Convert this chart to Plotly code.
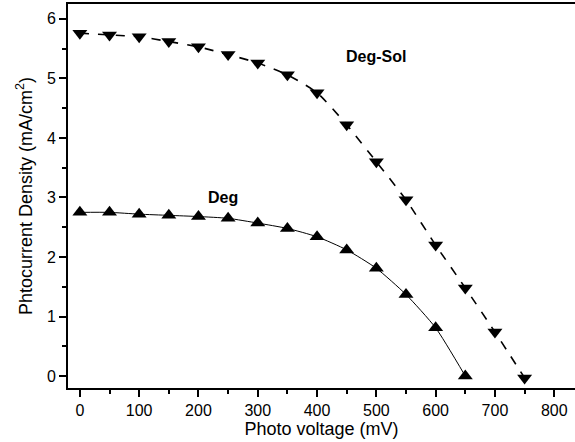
import plotly.graph_objects as go

voltage_sol = [0, 50, 100, 150, 200, 250, 300, 350, 400, 450, 500, 550, 600, 650, 700, 750]
current_sol = [5.76, 5.73, 5.70, 5.62, 5.53, 5.40, 5.26, 5.06, 4.76, 4.22, 3.60, 2.96, 2.20, 1.48, 0.74, -0.03]

voltage_deg = [0, 50, 100, 150, 200, 250, 300, 350, 400, 450, 500, 550, 600, 650]
current_deg = [2.75, 2.75, 2.72, 2.70, 2.68, 2.65, 2.57, 2.48, 2.34, 2.12, 1.81, 1.37, 0.81, 0.0]

x_ticks = [0, 100, 200, 300, 400, 500, 600, 700, 800]
y_ticks = [0, 1, 2, 3, 4, 5, 6]

font_family = "Liberation Sans, Arial, sans-serif"

fig = go.Figure()
fig.add_trace(go.Scatter(
    x=voltage_sol, y=current_sol, mode="lines+markers",
    line=dict(color="black", width=1.6, dash="dash", shape="spline", smoothing=0.6),
    marker=dict(symbol="triangle-down", size=13, color="black"),
    showlegend=False,
))
fig.add_trace(go.Scatter(
    x=voltage_deg, y=current_deg, mode="lines+markers",
    line=dict(color="black", width=1, shape="spline", smoothing=0.6),
    marker=dict(symbol="triangle-up", size=13, color="black"),
    showlegend=False,
))

fig.add_annotation(x=500, y=5.36, text="<b>Deg-Sol</b>", showarrow=False,
                   font=dict(size=16, color="black", family=font_family))
fig.add_annotation(x=241, y=3.0, text="<b>Deg</b>", showarrow=False,
                   font=dict(size=16, color="black", family=font_family))

fig.update_layout(
    width=575, height=442,
    margin=dict(l=68, r=0, t=4, b=54),
    paper_bgcolor="white", plot_bgcolor="white",
    font=dict(family=font_family, color="black", size=16),
)
fig.update_xaxes(
    range=[-20, 835], tickvals=x_ticks, ticktext=[str(v) for v in x_ticks],
    automargin=False,
    showline=True, linecolor="black", linewidth=2, mirror=True,
    ticks="outside", ticklen=7, tickwidth=1.5, tickcolor="black",
    minor=dict(dtick=50, tick0=0, ticks="outside", ticklen=4, tickcolor="black", tickwidth=1.5),
    showgrid=False, zeroline=False,
    title=dict(text="Photo voltage (mV)", font=dict(size=18, color="black"), standoff=0),
    tickfont=dict(size=16, color="black"),
)
fig.update_yaxes(
    range=[-0.2, 6.25], tickvals=y_ticks, ticktext=[str(v) for v in y_ticks],
    automargin=False,
    showline=True, linecolor="black", linewidth=2,
    ticks="outside", ticklen=7, tickwidth=1.5, tickcolor="black",
    minor=dict(dtick=0.5, tick0=0, ticks="outside", ticklen=4, tickcolor="black", tickwidth=1.5),
    showgrid=False, zeroline=False,
    title=dict(text="Phtocurrent Density (mA/cm<sup>2</sup>)", font=dict(size=18, color="black"), standoff=10),
    tickfont=dict(size=16, color="black"),
)

fig.write_html("out.html", post_script="document.body.style.margin='0';",
               config={"displayModeBar": False})
